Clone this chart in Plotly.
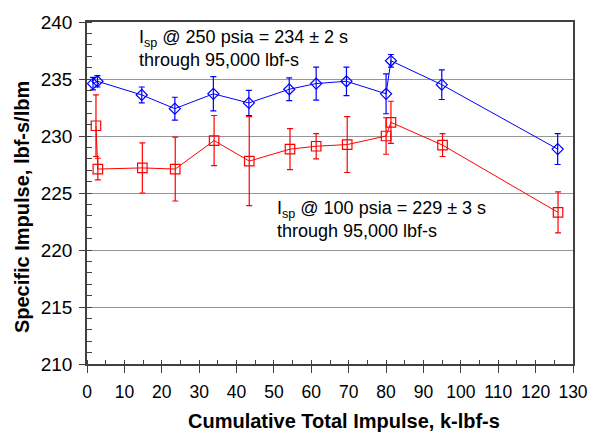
import plotly.graph_objects as go

# Cumulative total impulse (k-lbf-s) and specific impulse (lbf-s/lbm) with 1-sigma spread
x_250 = [1.6, 2.8, 14.65, 23.5, 33.8, 43.3, 54.1, 61.3, 69.4, 80.0, 81.3, 94.9, 125.9]
isp_250 = [234.6, 234.8, 233.6, 232.4, 233.7, 232.9, 234.1, 234.6, 234.8, 233.7, 236.6, 234.5, 228.85]
err_250 = [0.55, 0.5, 0.7, 1.0, 1.5, 1.1, 1.0, 1.45, 1.25, 1.75, 0.55, 1.3, 1.35]

x_100 = [2.4, 2.9, 14.8, 23.6, 34.0, 43.4, 54.3, 61.3, 69.6, 80.0, 81.3, 95.1, 126.0]
isp_100 = [230.9, 227.1, 227.2, 227.1, 229.6, 227.8, 228.85, 229.1, 229.25, 230.0, 231.2, 229.2, 223.3]
err_100 = [2.7, 0.95, 2.2, 2.8, 2.2, 3.9, 1.8, 1.1, 2.45, 1.6, 1.85, 1.0, 1.8]

x_ticks = list(range(0, 131, 10))
y_ticks = list(range(210, 241, 5))

BLUE = "#0000ff"
RED = "#ff0000"
AXIS = "#404040"
FONT = "Liberation Sans, Arial, sans-serif"

fig = go.Figure()

fig.add_trace(go.Scatter(
    x=x_250, y=isp_250, mode="lines+markers",
    line=dict(color=BLUE, width=1),
    marker=dict(symbol="diamond-open", size=8.5, color=BLUE, line=dict(width=1.2)),
    error_y=dict(type="data", array=err_250, visible=True, color=BLUE, thickness=1.2, width=3),
    showlegend=False,
))

fig.add_trace(go.Scatter(
    x=x_100, y=isp_100, mode="lines+markers",
    line=dict(color=RED, width=1),
    marker=dict(symbol="square-open", size=9.5, color=RED, line=dict(width=1.2)),
    error_y=dict(type="data", array=err_100, visible=True, color=RED, thickness=1.2, width=3),
    showlegend=False,
))

fig.update_layout(
    width=600, height=434,
    margin=dict(l=87, r=23, t=17, b=70),
    paper_bgcolor="white", plot_bgcolor="white",
    font=dict(family=FONT, size=17, color="black"),
    xaxis=dict(
        range=[0, 130], tickvals=x_ticks, showgrid=False, zeroline=False,
        showline=True, linecolor=AXIS, linewidth=1.5, mirror=True,
        ticks="outside", ticklen=7, tickcolor=AXIS, tickwidth=1,
        minor=dict(dtick=5, ticks="inside", ticklen=4, tickcolor=AXIS, showgrid=False),
        tickfont=dict(size=17.5), ticklabelstandoff=4,
    ),
    yaxis=dict(
        range=[210, 240], tickvals=y_ticks, showgrid=True, gridcolor="#969696",
        gridwidth=1, zeroline=False,
        showline=True, linecolor=AXIS, linewidth=1.5, mirror=True,
        ticks="outside", ticklen=6, tickcolor=AXIS, tickwidth=1,
        minor=dict(dtick=1, ticks="inside", ticklen=5, tickcolor=AXIS, showgrid=False),
        tickfont=dict(size=19), ticklabelstandoff=3,
    ),
    # inner halves of the major ticks, so they cross the axis lines
    xaxis2=dict(
        range=[0, 130], tickvals=x_ticks, overlaying="x", anchor="y", side="bottom",
        showgrid=False, zeroline=False, showline=False, showticklabels=False,
        ticks="inside", ticklen=4, tickcolor=AXIS, tickwidth=1,
    ),
    yaxis2=dict(
        range=[210, 240], tickvals=y_ticks, overlaying="y", anchor="x", side="left",
        showgrid=False, zeroline=False, showline=False, showticklabels=False,
        ticks="inside", ticklen=5, tickcolor=AXIS, tickwidth=1,
    ),
    annotations=[
        dict(text="<b>Specific Impulse, lbf-s/lbm</b>", xref="paper", yref="paper",
             x=-0.135, y=0.46, textangle=-90, showarrow=False, font=dict(size=20),
             xanchor="center", yanchor="middle"),
        dict(text="<b>Cumulative Total Impulse, k-lbf-s</b>", xref="paper", yref="paper",
             x=0.529, y=-0.168, showarrow=False, font=dict(size=20),
             xanchor="center", yanchor="middle"),
        dict(text="I<sub>sp</sub> @ 250 psia = 234 ± 2 s<br>through 95,000 lbf-s",
             xref="paper", yref="paper", x=0.1027, y=0.922, showarrow=False,
             align="left", xanchor="left", yanchor="middle", font=dict(size=18)),
        dict(text="I<sub>sp</sub> @ 100 psia = 229 ± 3 s<br>through 95,000 lbf-s",
             xref="paper", yref="paper", x=0.387, y=0.4216, showarrow=False,
             align="left", xanchor="left", yanchor="middle", font=dict(size=18)),
    ],
)

# an empty trace registers the overlay axes so their ticks are drawn
fig.add_trace(go.Scatter(x=[], y=[], xaxis="x2", yaxis="y2", showlegend=False, hoverinfo="skip"))

fig.write_html("out.html")
